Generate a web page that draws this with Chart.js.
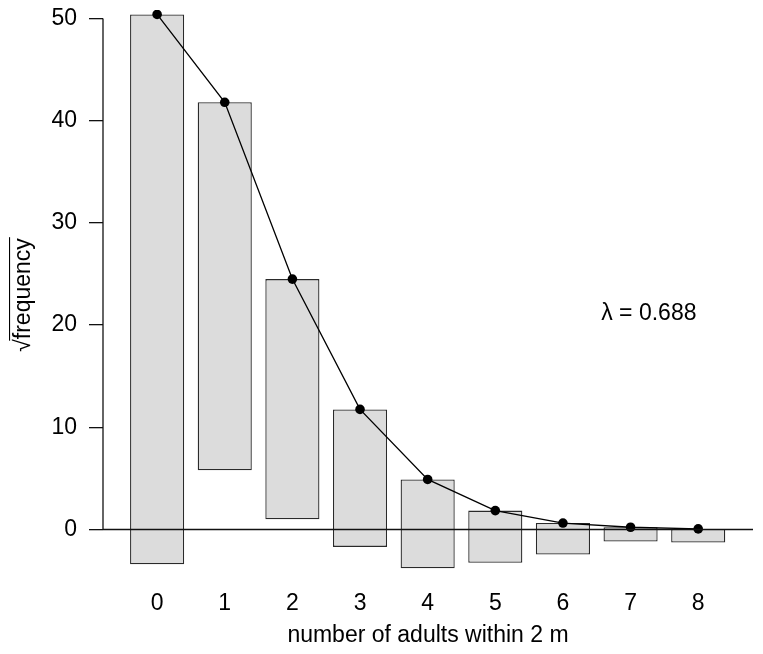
<!DOCTYPE html>
<html><head><meta charset="utf-8">
<script src="https://cdn.jsdelivr.net/npm/chart.js@4.4.0/dist/chart.umd.min.js"></script>
<style>html,body{margin:0;padding:0;background:#fff}#wrap{width:763px;height:654px}</style>
</head><body><div id="wrap"><canvas id="c" width="763" height="654"></canvas></div>
<script>
// ---- data ----
const categories = [0, 1, 2, 3, 4, 5, 6, 7, 8];
const expectedSqrt = [50.4, 41.8, 24.5, 11.75, 4.9, 1.85, 0.63, 0.22, 0.06];
const observedSqrt = [53.8, 36.0, 23.5, 13.45, 8.7, 5.1, 3.07, 1.4, 1.33];
const yTicks = [0, 10, 20, 30, 40, 50];
const xTitle = 'number of adults within 2 m';
const yTitle = '\u221Afrequency';
const lambdaLabel = '\u03BB = 0.688';

// ---- presentation ----
const FONT = 'Liberation Sans, Arial, Helvetica, sans-serif';
const FS = 23;
const lambdaAt = {x: 7.27, y: 21.1};

const barData = categories.map((c, i) => ({x: c, y: [expectedSqrt[i] - observedSqrt[i], expectedSqrt[i]]}));
const lineData = categories.map((c, i) => ({x: c, y: expectedSqrt[i]}));

function noPad(s) { s.paddingTop = 0; s.paddingBottom = 0; s.paddingLeft = 0; s.paddingRight = 0; }

const extras = {
  id: 'extras',
  afterDatasetsDraw(chart) {
    const {ctx, chartArea, scales: {x, y}} = chart;
    ctx.save();
    ctx.strokeStyle = '#111';
    ctx.lineWidth = 1.3;
    const y0 = y.getPixelForValue(0);
    ctx.beginPath();
    ctx.moveTo(chartArea.left, y0);
    ctx.lineTo(chartArea.right, y0);
    ctx.stroke();
    ctx.beginPath();
    ctx.moveTo(chartArea.left, y.getPixelForValue(yTicks[0]));
    ctx.lineTo(chartArea.left, y.getPixelForValue(yTicks[yTicks.length - 1]));
    ctx.stroke();
    ctx.restore();
  },
  afterDraw(chart) {
    const {ctx, chartArea, scales: {x, y}} = chart;
    ctx.save();
    ctx.font = FS + 'px ' + FONT;
    ctx.fillStyle = '#000';
    ctx.textAlign = 'center';
    ctx.textBaseline = 'middle';
    ctx.fillText(lambdaLabel, x.getPixelForValue(lambdaAt.x), y.getPixelForValue(lambdaAt.y));
    const w = ctx.measureText(yTitle).width;
    const sw = ctx.measureText('\u221A').width;
    const tx = y.left + FS * 1.2 / 2 + 10;
    const ty = (chartArea.top + chartArea.bottom) / 2;
    ctx.translate(tx, ty);
    ctx.rotate(-Math.PI / 2);
    ctx.strokeStyle = '#000';
    ctx.lineWidth = 1.1;
    ctx.beginPath();
    const oy = -FS * 0.62;
    ctx.moveTo(-w / 2 + sw - 1.5, oy);
    ctx.lineTo(w / 2 + 1, oy);
    ctx.stroke();
    ctx.restore();
  }
};

new Chart(document.getElementById('c'), {
  type: 'bar',
  data: {
    datasets: [
      {type: 'line', data: lineData, borderColor: '#000', borderWidth: 1.3, pointRadius: 4.8,
       pointBackgroundColor: '#000', pointBorderWidth: 0, tension: 0, order: 0},
      {type: 'bar', data: barData, backgroundColor: '#dcdcdc', borderColor: '#2a2a2a', borderWidth: 1.3,
       borderSkipped: false, barPercentage: 0.8, categoryPercentage: 1, order: 1}
    ]
  },
  options: {
    responsive: false, animation: false, devicePixelRatio: 1,
    layout: {padding: {top: 10, right: 10, left: 0, bottom: 0}},
    plugins: {legend: {display: false}, tooltip: {enabled: false}},
    scales: {
      x: {
        type: 'linear', offset: false, min: -0.8, max: 8.81,
        afterBuildTicks: s => { s.ticks = categories.map(v => ({value: v})); },
        afterFit: s => { s.height = 74; noPad(s); },
        grid: {display: false}, border: {display: false},
        ticks: {font: {size: FS, family: FONT}, color: '#000', padding: 2},
        title: {display: true, text: xTitle, font: {size: FS, family: FONT}, color: '#000', padding: {top: 4, bottom: 5}}
      },
      y: {
        min: -4.94, max: 50.83,
        afterBuildTicks: s => { s.ticks = yTicks.map(v => ({value: v})); },
        afterFit: s => { s.width = 103; noPad(s); },
        grid: {drawOnChartArea: false, drawTicks: true, tickLength: 14, color: '#111', lineWidth: 1.3},
        border: {display: false},
        ticks: {font: {size: FS, family: FONT}, color: '#000', padding: 12},
        title: {display: true, text: yTitle, font: {size: FS, family: FONT}, color: '#000', padding: {top: 10, bottom: 0}}
      }
    }
  },
  plugins: [extras]
});
</script>
</body></html>
